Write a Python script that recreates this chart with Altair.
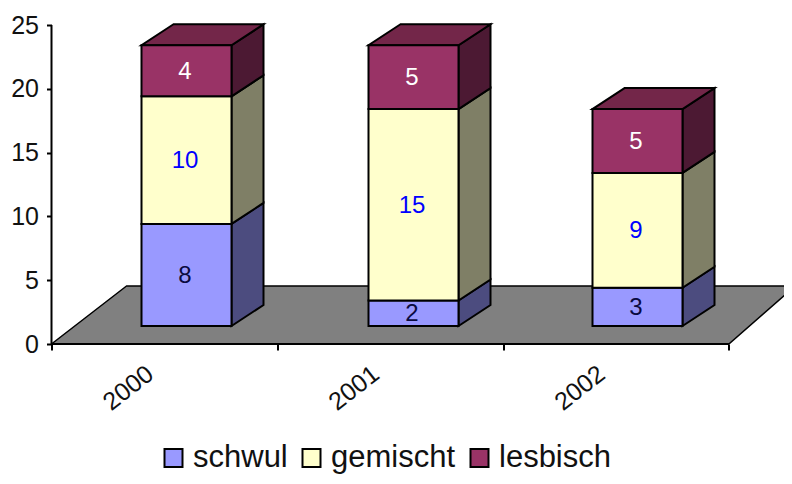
import altair as alt
import pandas as pd

years = ["2000", "2001", "2002"]
series = ["schwul", "gemischt", "lesbisch"]
schwul = [8, 2, 3]
gemischt = [10, 15, 9]
lesbisch = [4, 5, 5]
front_colors = ["#9999FF", "#FFFFCC", "#993366"]
side_colors = ["#4C4C7F", "#7F7F66", "#4C1933"]
label_colors = ["#0A0A40", "#0000FF", "#FFFFFF"]
top_color = "#732649"
y_ticks = [0, 5, 10, 15, 20, 25]

PX = 225.8   # px per category
PY = 12.76   # px per value unit
BASE = 18 / PY
HALF = 45 / PX
CENTERS = [135 / PX, 362 / PX, 586 / PX]
DX = 32 / PX
DY = 21 / PY

front, side, top, labels = [], [], [], []
values = [schwul, gemischt, lesbisch]
for i, yr in enumerate(years):
    cum = BASE
    xl = CENTERS[i] - HALF
    xr = CENTERS[i] + HALF
    for s, name in enumerate(series):
        v = values[s][i]
        y0, y1 = cum, cum + v
        front.append(dict(x=xl, x2=xr, y=y0, y2=y1, serie=name))
        labels.append(dict(x=CENTERS[i], y=(y0 + y1) / 2, t=str(v), c=label_colors[s]))
        fid = f"{i}-{s}"
        side.append(dict(x=xr, y=y0, y2=y1, id=fid, c=side_colors[s]))
        side.append(dict(x=xr + DX, y=y0 + DY, y2=y1 + DY, id=fid, c=side_colors[s]))
        cum = y1
    top.append(dict(y=cum, x=xl, x2=xr, id=i))
    top.append(dict(y=cum + DY, x=xl + DX, x2=xr + DX, id=i))

x_scale = alt.Scale(domain=[0, (784 - 51.5) / PX], nice=False, zero=False)
y_scale = alt.Scale(domain=[(344 - 476) / PY, (344 - 8) / PY], nice=False, zero=False)
X = alt.X("x:Q", scale=x_scale, axis=alt.Axis(
    values=[0, 1, 2, 3], labels=False, title=None, grid=False, domain=False,
    offset=-132, tickSize=6, tickColor="black", tickWidth=2))
Y = alt.Y("y:Q", scale=y_scale, axis=alt.Axis(
    values=y_ticks, title=None, grid=False, domain=False, tickSize=5,
    tickColor="black", tickWidth=2, labelFontSize=25, labelColor="#111111",
    labelFont="Liberation Sans", labelPadding=8))

floor_df = pd.DataFrame([dict(y=0, x=0, x2=3), dict(y=58 / PY, x=75 / PX, x2=(795 - 51.5) / PX)])
floor = alt.Chart(floor_df).mark_area(orient="horizontal", fill="#808080", stroke="black",
                                      strokeWidth=1.5, clip=True).encode(X, Y, x2="x2:Q")

sides = alt.Chart(pd.DataFrame(side)).mark_area(stroke="black", strokeWidth=2).encode(
    X, Y, y2="y2:Q", detail="id:N", fill=alt.Fill("c:N", scale=None))

tops = alt.Chart(pd.DataFrame(top)).mark_area(
    orient="horizontal", fill=top_color, stroke="black", strokeWidth=2).encode(
    X, Y, x2="x2:Q", detail="id:N")

fronts = alt.Chart(pd.DataFrame(front)).mark_rect(stroke="black", strokeWidth=2).encode(
    X, alt.X2("x2:Q"), Y, alt.Y2("y2:Q"),
    color=alt.Color("serie:N", scale=alt.Scale(domain=series, range=front_colors),
                    legend=alt.Legend(
                        orient="none", legendX=106.5, legendY=430, direction="horizontal",
                        columns=3, title=None, symbolType="square", symbolSize=324,
                        symbolStrokeColor="black", symbolStrokeWidth=2, symbolOpacity=1,
                        labelFontSize=31, labelFont="Liberation Sans", labelColor="#111111",
                        labelOffset=4, columnPadding=8, clipHeight=40)))

text = alt.Chart(pd.DataFrame(labels)).mark_text(
    fontSize=24, font="Liberation Sans", align="center", baseline="middle", dx=-1.5, dy=1).encode(
    X, Y, alt.Text("t:N"), color=alt.Color("c:N", scale=None))

axis_y = alt.Chart(pd.DataFrame([dict(x=0, y=0, y2=25)])).mark_rule(color="black", strokeWidth=2).encode(X, Y, y2="y2:Q")
axis_x = alt.Chart(pd.DataFrame([dict(x=0, x2=3, y=0)])).mark_rule(color="black", strokeWidth=2).encode(X, x2="x2:Q", y=Y)

x_labels = alt.Chart(pd.DataFrame([dict(x=i + 0.34, y=-44 / PY, t=yr) for i, yr in enumerate(years)])).mark_text(
    fontSize=25, font="Liberation Sans", angle=322, align="center", baseline="middle", color="#111111").encode(
    X, Y, alt.Text("t:N"))

chart = alt.layer(floor, sides, tops, fronts, text, axis_y, axis_x, x_labels).resolve_scale(
    color="independent"
).properties(
    width=732.5, height=468,
    autosize=alt.AutoSizeParams(type="none"),
    padding={"left": 43.5, "top": 0, "right": 0, "bottom": 0},
    background="white",
).configure_view(stroke=None)

chart.save("out.html", embed_options={"renderer": "svg", "actions": False})
